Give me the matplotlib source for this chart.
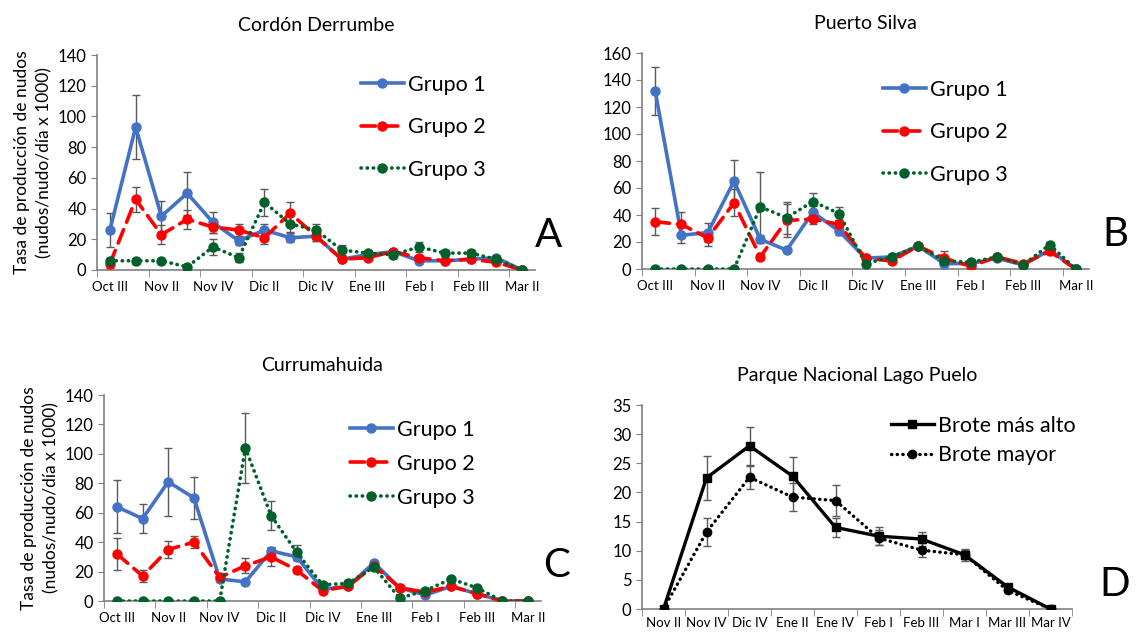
import matplotlib
matplotlib.use("Agg")
import matplotlib.pyplot as plt

plt.rcParams['font.family'] = ['Lato', 'DejaVu Sans']

# ---- data ----
cats = ["Oct III", "", "Nov II", "", "Nov IV", "", "Dic II", "", "Dic IV", "",
        "Ene III", "", "Feb I", "", "Feb III", "", "Mar II"]

# A - Cordon Derrumbe
a_g1 = [26, 93, 35, 50, 31, 19, 26, 21, 22, 7, 10, 12, 6, 6, 7, 8, 0]
a_g1_err = [11, 21, 10, 14, 7, 3, 4, 3, 3, 1, 1, 1, 1, 1, 1, 1, 0]
a_g2 = [4, 46, 23, 33, 28, 26, 21, 37, 22, 7, 8, 12, 8, 6, 7, 5, 0]
a_g2_err = [3, 8, 6, 6, 4, 4, 4, 7, 3, 1, 1, 1, 1, 1, 1, 1, 0]
a_g3 = [6, 6, 6, 2, 15, 8, 44, 30, 26, 13, 11, 10, 15, 11, 11, 7, 0]
a_g3_err = [2, 2, 1, 1, 5, 3, 9, 5, 4, 3, 1, 2, 3, 2, 2, 1, 0]

# B - Puerto Silva
b_g1 = [132, 25, 27, 65, 22, 14, 42, 28, 8, 9, 17, 4, 4, 8, 3, 14, 0]
b_g1_err = [18, 6, 7, 16, 3, 1, 5, 3, 1, 1, 1, 1, 1, 1, 1, 2, 0]
b_g2 = [35, 33, 23, 49, 9, 36, 37, 33, 8, 6, 17, 8, 2, 9, 4, 13, 0]
b_g2_err = [10, 9, 6, 10, 2, 12, 4, 3, 1, 1, 2, 5, 1, 1, 1, 2, 0]
b_g3 = [0, 0, 0, 0, 46, 38, 50, 41, 4, 9, 17, 6, 5, 9, 3, 18, 0]
b_g3_err = [0, 0, 0, 0, 26, 12, 6, 5, 1, 1, 2, 2, 1, 1, 1, 2, 0]

# C - Currumahuida
c_g1 = [64, 56, 81, 70, 15, 13, 34, 30, 8, 10, 26, 9, 4, 10, 5, 0, 0]
c_g1_err = [18, 10, 23, 14, 2, 1, 3, 2, 1, 1, 1, 1, 1, 1, 1, 0, 0]
c_g2 = [32, 17, 35, 40, 16, 24, 30, 21, 7, 10, 24, 9, 6, 10, 5, 0, 0]
c_g2_err = [11, 4, 6, 4, 2, 5, 6, 2, 1, 1, 1, 1, 1, 1, 1, 0, 0]
c_g3 = [0, 0, 0, 0, 0, 104, 58, 33, 11, 12, 23, 2, 7, 15, 9, 0, 0]
c_g3_err = [0, 0, 0, 0, 0, 24, 10, 5, 1, 1, 2, 1, 1, 1, 1, 0, 0]

# D - Parque Nacional Lago Puelo
d_cats = ["Nov II", "Nov IV", "Dic IV", "Ene II", "Ene IV", "Feb I",
          "Feb III", "Mar I", "Mar III", "Mar IV"]
d_alto = [0, 22.5, 28, 22.8, 14, 12.5, 12, 9.3, 3.8, 0]
d_alto_err = [0, 3.8, 3.3, 3.3, 1.6, 1.5, 1.2, 1.0, 0.4, 0]
d_mayor = [0, 13.2, 22.6, 19.2, 18.6, 12.2, 10.1, 9.3, 3.2, 0]
d_mayor_err = [0, 2.4, 2.0, 2.4, 2.6, 1.3, 1.2, 0.8, 0.4, 0]

W, H = 1138, 634
fig = plt.figure(figsize=(W / 100, H / 100), dpi=100)


def px_axes(l, t, r, b):
    return fig.add_axes([l / W, 1 - b / H, (r - l) / W, (b - t) / H])


BLUE = "#4472C4"
RED = "#FF0000"
GREEN = "#00602B"
ERR = "#595959"

series_style = [
    dict(color=BLUE, ls="-", marker="o", label="Grupo 1"),
    dict(color=RED, ls=(0, (4, 2.2)), marker="o", label="Grupo 2"),
    dict(color=GREEN, ls=(0, (0.1, 1.6)), marker="o", label="Grupo 3"),
]


def style_axes(ax, n, ymax, ystep, labels, boundary_ticks):
    ax.set_xlim(-0.5, n - 0.5)
    ax.set_ylim(0, ymax)
    ax.set_yticks(range(0, ymax + 1, ystep))
    ax.tick_params(axis='y', labelsize=12, length=4, color="#808080")
    for s in ["top", "right"]:
        ax.spines[s].set_visible(False)
    for s in ["left", "bottom"]:
        ax.spines[s].set_color("#808080")
        ax.spines[s].set_linewidth(1.2)
    ax.set_xticks(range(n))
    ax.set_xticklabels(labels, fontsize=9.5)
    ax.tick_params(axis='x', length=0, pad=8)
    ax.set_xticks(boundary_ticks, minor=True)
    ax.tick_params(axis='x', which='minor', length=5, color="#808080", direction='out')


def group_panel(ax, data, title, letter, ymax, lg_anchor, lg_space):
    for (vals, errs), st in zip(data, series_style):
        x = range(len(vals))
        ax.errorbar(x, vals, yerr=errs, fmt="none", ecolor=ERR, elinewidth=1,
                    capsize=3, capthick=1, zorder=2)
        ax.plot(x, vals, color=st["color"], ls=st["ls"], lw=2.6,
                marker=st["marker"], ms=6.5, label=st["label"],
                dash_capstyle="round", zorder=3)
    style_axes(ax, len(cats), ymax, 20, cats, [i - 0.5 for i in range(0, len(cats), 2)])
    ax.set_title(title, fontsize=14, pad=17)
    ax.legend(loc="upper left", bbox_to_anchor=lg_anchor, bbox_transform=fig.transFigure,
              frameon=False, fontsize=15.5, handlelength=2.0, handletextpad=0.2,
              labelspacing=lg_space, borderpad=0)
    ax.text(1.03, 0.16, letter, transform=ax.transAxes, fontsize=29, ha="center", va="center")


ylab = "Tasa de producción de nudos\n(nudos/nudo/día x 1000)"

axA = px_axes(97, 55, 535, 270)
group_panel(axA, [(a_g1, a_g1_err), (a_g2, a_g2_err), (a_g3, a_g3_err)],
            "Cordón Derrumbe", "A", 140, (350 / W, 1 - 64 / H), 1.05)
axA.set_ylabel(ylab, fontsize=12.5, labelpad=4, linespacing=1.45)

axB = px_axes(642, 53, 1089, 269)
group_panel(axB, [(b_g1, b_g1_err), (b_g2, b_g2_err), (b_g3, b_g3_err)],
            "Puerto Silva", "B", 160, (872 / W, 1 - 69 / H), 1.05)
axB.texts[0].set_position((1.06, 0.16))

axC = px_axes(104, 395, 541, 601)
group_panel(axC, [(c_g1, c_g1_err), (c_g2, c_g2_err), (c_g3, c_g3_err)],
            "Currumahuida", "C", 140, (339 / W, 1 - 409 / H), 0.65)
axC.set_ylabel(ylab, fontsize=12.5, labelpad=4, linespacing=1.45)
axC.texts[0].set_position((1.035, 0.17))

axD = px_axes(642, 405, 1072, 609)
x = range(len(d_cats))
axD.errorbar(x, d_alto, yerr=d_alto_err, fmt="none", ecolor=ERR, elinewidth=1,
             capsize=3, capthick=1, zorder=2)
axD.errorbar(x, d_mayor, yerr=d_mayor_err, fmt="none", ecolor=ERR, elinewidth=1,
             capsize=3, capthick=1, zorder=2)
axD.plot(x, d_alto, color="black", lw=2.4, marker="s", ms=6, label="Brote más alto", zorder=3)
axD.plot(x, d_mayor, color="black", lw=2.4, ls=(0, (0.1, 1.6)), dash_capstyle="round",
         marker="o", ms=6, label="Brote mayor", zorder=3)
style_axes(axD, len(d_cats), 35, 5, d_cats, [i - 0.5 for i in range(len(d_cats) + 1)])
axD.tick_params(axis='x', pad=6)
axD.set_title("Parque Nacional Lago Puelo", fontsize=14, pad=17)
axD.legend(loc="upper left", bbox_to_anchor=(880 / W, 1 - 405 / H), bbox_transform=fig.transFigure,
           frameon=False, fontsize=15.5, handlelength=2.0, handletextpad=0.2,
           labelspacing=0.45, borderpad=0)
axD.text(1.1, 0.12, "D", transform=axD.transAxes, fontsize=29, ha="center", va="center")

fig.savefig("out.png", dpi=100)
